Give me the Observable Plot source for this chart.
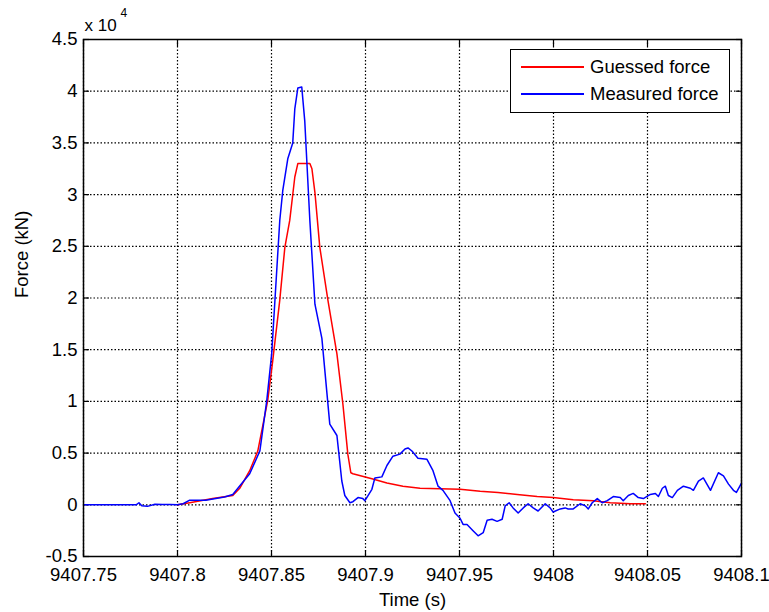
<!DOCTYPE html>
<html>
<head>
<meta charset="utf-8">
<script src="https://cdn.jsdelivr.net/npm/d3@7"></script>
<script src="https://cdn.jsdelivr.net/npm/@observablehq/plot@0.6"></script>
<style>
  body { margin: 0; background: #fff; font-family: "Liberation Sans", Arial, sans-serif; }
  #wrap { position: relative; width: 769px; height: 612px; }
  #legend { position: absolute; left: 510px; top: 49px; width: 218px; height: 62px; border: 1.5px solid #000; background: #fff; font-size: 18.5px; color: #000; }
  .row { position: absolute; left: 10px; height: 20px; display: flex; align-items: center; }
  .sw { display: inline-block; width: 63px; height: 1.5px; margin-right: 6px; }
</style>
</head>
<body>
<div id="wrap">
  <div id="legend">
    <div class="row" style="top:7px"><span class="sw" style="background:#ff0000"></span><span>Guessed force</span></div>
    <div class="row" style="top:34px"><span class="sw" style="background:#0000ff"></span><span>Measured force</span></div>
  </div>
</div>
<script>
// Guessed force (kN) vs time (s)
const guessedT = [9407.8000, 9407.8065, 9407.8187, 9407.8294, 9407.8331, 9407.8384, 9407.8427, 9407.8480, 9407.8507, 9407.8544, 9407.8571, 9407.8597, 9407.8624, 9407.8640, 9407.8704, 9407.8715, 9407.8731, 9407.8757, 9407.8800, 9407.8848, 9407.8880, 9407.8906, 9407.8922, 9407.8933, 9407.9039, 9407.9114, 9407.9199, 9407.9290, 9407.9503, 9407.9610, 9407.9705, 9407.9807, 9407.9913, 9407.9998, 9408.0105, 9408.0212, 9408.0302, 9408.0409, 9408.0489];
const guessedF = [0, 200, 600, 900, 1600, 3300, 5200, 10100, 14000, 19800, 24900, 27500, 31700, 33000, 33000, 32500, 30200, 24900, 19800, 14600, 9700, 4900, 3100, 3000, 2500, 2100, 1800, 1600, 1500, 1300, 1200, 1000, 800, 700, 500, 400, 200, 100, 100];

// Measured force (kN) vs time (s)
const measuredT = [9407.7500, 9407.7780, 9407.7795, 9407.7810, 9407.7840, 9407.7880, 9407.7920, 9407.7960, 9407.8000, 9407.8030, 9407.8065, 9407.8150, 9407.8250, 9407.8294, 9407.8384, 9407.8438, 9407.8475, 9407.8501, 9407.8517, 9407.8544, 9407.8560, 9407.8587, 9407.8613, 9407.8624, 9407.8640, 9407.8661, 9407.8677, 9407.8704, 9407.8731, 9407.8768, 9407.8810, 9407.8848, 9407.8874, 9407.8890, 9407.8917, 9407.8933, 9407.8960, 9407.8986, 9407.8997, 9407.9034, 9407.9050, 9407.9087, 9407.9114, 9407.9146, 9407.9183, 9407.9210, 9407.9226, 9407.9247, 9407.9279, 9407.9327, 9407.9359, 9407.9386, 9407.9412, 9407.9450, 9407.9476, 9407.9503, 9407.9519, 9407.9540, 9407.9572, 9407.9599, 9407.9626, 9407.9647, 9407.9673, 9407.9700, 9407.9727, 9407.9743, 9407.9764, 9407.9785, 9407.9812, 9407.9839, 9407.9865, 9407.9892, 9407.9918, 9407.9956, 9407.9982, 9407.9998, 9408.0036, 9408.0062, 9408.0078, 9408.0105, 9408.0142, 9408.0169, 9408.0185, 9408.0206, 9408.0233, 9408.0259, 9408.0286, 9408.0318, 9408.0355, 9408.0371, 9408.0398, 9408.0424, 9408.0451, 9408.0478, 9408.0515, 9408.0542, 9408.0558, 9408.0579, 9408.0595, 9408.0611, 9408.0632, 9408.0659, 9408.0691, 9408.0728, 9408.0744, 9408.0771, 9408.0797, 9408.0835, 9408.0877, 9408.0904, 9408.0931, 9408.0957, 9408.0973, 9408.1000];
const measuredF = [0, 0, 200, -100, -150, 50, 20, 40, 0, 100, 450, 450, 750, 1000, 3000, 5200, 10100, 14600, 19400, 27500, 30400, 33500, 35000, 38300, 40300, 40400, 37100, 27500, 19400, 16100, 7800, 6700, 2300, 900, 200, 300, 700, 600, 400, 1500, 2600, 2700, 3800, 4700, 4900, 5400, 5500, 5200, 4500, 4400, 3300, 1800, 1400, 400, -800, -1300, -1900, -1900, -2500, -3000, -2700, -1500, -1400, -1600, -1400, -100, 200, -300, -800, -300, 100, -300, -600, 100, -300, -700, -400, -300, -400, -400, 100, -100, -400, 200, 600, 200, 400, 800, 700, 400, 900, 1100, 700, 600, 1000, 1100, 800, 1600, 1800, 900, 700, 1400, 1800, 1600, 1400, 2300, 2600, 1400, 3100, 2800, 2000, 1400, 1200, 2100];

const xTicks = [9407.75, 9407.8, 9407.85, 9407.9, 9407.95, 9408, 9408.05, 9408.1];
const xTickLabels = ["9407.75", "9407.8", "9407.85", "9407.9", "9407.95", "9408", "9408.05", "9408.1"];
const yTicks = [-5000, 0, 5000, 10000, 15000, 20000, 25000, 30000, 35000, 40000, 45000];
const yTickLabels = ["-0.5", "0", "0.5", "1", "1.5", "2", "2.5", "3", "3.5", "4", "4.5"];

const guessed = guessedT.map((t, i) => ({t, f: guessedF[i]}));
const measured = measuredT.map((t, i) => ({t, f: measuredF[i]}));
const xLab = new Map(xTicks.map((v, i) => [v, xTickLabels[i]]));
const yLab = new Map(yTicks.map((v, i) => [v, yTickLabels[i]]));

const fs = 18.5;
const chart = Plot.plot({
  width: 769,
  height: 612,
  marginLeft: 83,
  marginRight: 28,
  marginTop: 39,
  marginBottom: 56,
  style: {fontFamily: "'Liberation Sans', Arial, sans-serif", fontSize: fs + "px", background: "#fff", color: "#000", overflow: "visible"},
  x: {domain: [9407.75, 9408.1]},
  y: {domain: [-5000, 45000]},
  marks: [
    Plot.gridX(xTicks, {stroke: "#000", strokeOpacity: 1, strokeDasharray: "1.5,2", strokeWidth: 1.2}),
    Plot.gridY(yTicks, {stroke: "#000", strokeOpacity: 1, strokeDasharray: "1.5,2", strokeWidth: 1.2}),
    Plot.axisX(xTicks, {anchor: "bottom", tickSize: 0, tickPadding: 11, tickFormat: d => xLab.get(d), label: null, fontSize: fs}),
    Plot.axisX(xTicks, {anchor: "bottom", tickSize: -6, tickFormat: () => "", label: null, strokeWidth: 1.2}),
    Plot.axisX(xTicks, {anchor: "top", tickSize: -6, tickFormat: () => "", label: null, strokeWidth: 1.2}),
    Plot.axisY(yTicks, {anchor: "left", tickSize: 0, tickPadding: 6, tickFormat: d => yLab.get(d), label: null, fontSize: fs}),
    Plot.axisY(yTicks, {anchor: "left", tickSize: -6, tickFormat: () => "", label: null, strokeWidth: 1.2}),
    Plot.axisY(yTicks, {anchor: "right", tickSize: -6, tickFormat: () => "", label: null, strokeWidth: 1.2}),
    Plot.line(guessed, {x: "t", y: "f", stroke: "#ff0000", strokeWidth: 1.5}),
    Plot.line(measured, {x: "t", y: "f", stroke: "#0000ff", strokeWidth: 1.5}),
    Plot.frame({stroke: "#000", strokeWidth: 1.5}),
    Plot.text(["Time (s)"], {frameAnchor: "bottom", dy: 44, lineAnchor: "middle", fontSize: fs, fill: "#000"}),
    Plot.text(["Force (kN)"], {frameAnchor: "left", dx: -61, rotate: -90, lineAnchor: "middle", fontSize: fs, fill: "#000"}),
    Plot.text(["x 10"], {frameAnchor: "top-left", textAnchor: "start", dx: 1, dy: -14, lineAnchor: "middle", fontSize: 17, fill: "#000"}),
    Plot.text(["4"], {frameAnchor: "top-left", textAnchor: "start", dx: 37, dy: -26, lineAnchor: "middle", fontSize: 12, fill: "#000"})
  ]
});
document.getElementById("wrap").prepend(chart);
chart.style.position = "absolute";
chart.style.left = "0";
chart.style.top = "0";
</script>
</body>
</html>
